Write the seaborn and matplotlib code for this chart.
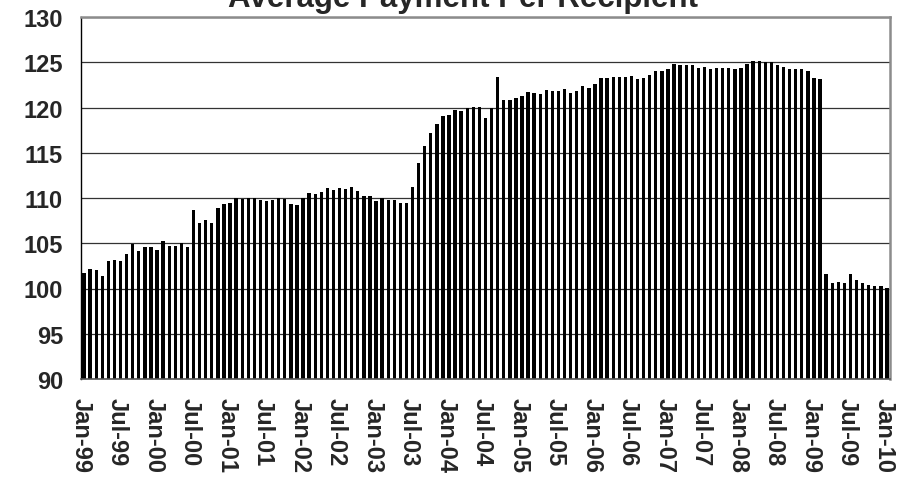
import pandas as pd
import numpy as np
import matplotlib
matplotlib.use('Agg')
import matplotlib.pyplot as plt
import seaborn as sns

# monthly average payment per recipient, Jan-99 .. Jan-10
values = [101.7, 102.2, 102.0, 101.35, 103.0, 103.15, 103.0, 103.8, 104.9, 104.1, 104.55, 104.55,
          104.3, 105.3, 104.65, 104.65, 105.0, 104.55, 108.65, 107.25, 107.55, 107.25, 108.95, 109.3,
          109.5, 110.05, 109.9, 110.05, 110.05, 109.8, 109.7, 109.8, 110.0, 109.9, 109.3, 109.25,
          110.0, 110.6, 110.45, 110.65, 111.1, 110.9, 111.1, 111.0, 111.2, 110.8, 110.2, 110.2,
          109.65, 109.95, 109.8, 109.8, 109.5, 109.45, 111.2, 113.85, 115.7, 117.2, 118.2, 119.05,
          119.2, 119.7, 119.6, 119.9, 120.05, 120.1, 118.85, 119.9, 123.4, 120.85, 120.85, 121.05,
          121.25, 121.7, 121.6, 121.5, 121.9, 121.8, 121.8, 122.05, 121.6, 121.8, 122.4, 122.15,
          122.6, 123.3, 123.3, 123.4, 123.4, 123.4, 123.5, 123.15, 123.3, 123.6, 124.05, 124.05,
          124.25, 124.8, 124.7, 124.7, 124.7, 124.35, 124.45, 124.25, 124.35, 124.35, 124.35, 124.25,
          124.35, 124.8, 125.15, 125.15, 125.0, 125.0, 124.7, 124.45, 124.25, 124.25, 124.25, 124.05,
          123.3, 123.15, 101.6, 100.6, 100.7, 100.6, 101.6, 100.95, 100.6, 100.4, 100.3, 100.3,
          100.1]
months = pd.date_range('1999-01-01', periods=len(values), freq='MS').strftime('%b-%y').tolist()

tick_labels = ['Jan-99', 'Jul-99', 'Jan-00', 'Jul-00', 'Jan-01', 'Jul-01', 'Jan-02', 'Jul-02',
               'Jan-03', 'Jul-03', 'Jan-04', 'Jul-04', 'Jan-05', 'Jul-05', 'Jan-06', 'Jul-06',
               'Jan-07', 'Jul-07', 'Jan-08', 'Jul-08', 'Jan-09', 'Jul-09', 'Jan-10']
y_ticks = [90, 95, 100, 105, 110, 115, 120, 125, 130]

df = pd.DataFrame({'Month': months, 'Payment': values})

sns.set_style('white')
plt.rcParams['font.family'] = ['Liberation Sans', 'DejaVu Sans']

fig = plt.figure(figsize=(9.09, 4.85), dpi=100)
ax = fig.add_axes([81/909, 1-380/485, (890-81)/909, (380-18)/485])

sns.barplot(data=df, x='Month', y='Payment', color='black', saturation=1,
            width=0.55, ax=ax, linewidth=0)

ax.set_ylim(90, 130)
ax.set_xlim(-0.5, len(values) - 0.5)
ax.set_yticks(y_ticks)
ax.set_yticklabels([str(t) for t in y_ticks], fontsize=17, fontweight='bold')
ax.set_xticks(np.arange(len(tick_labels)) * 6 - 0.5)
ax.set_xticklabels(tick_labels, rotation=270, fontsize=17, fontweight='bold')
ax.set_xlabel('')
ax.set_ylabel('')

ax.yaxis.grid(True, color='#333333', linewidth=0.9)
ax.set_axisbelow(True)
ax.tick_params(axis='both', direction='out', length=5, width=0.9, color='#333333')
ax.tick_params(axis='x', pad=8)
ax.tick_params(axis='y', pad=8)

for s in ['top', 'right']:
    ax.spines[s].set_color('#8c8c8c')
    ax.spines[s].set_linewidth(1.8)
ax.spines['left'].set_color('black')
ax.spines['left'].set_linewidth(1.0)
ax.spines['bottom'].set_color('#555555')
ax.spines['bottom'].set_linewidth(1.2)

# title sits partly above the canvas, as in the source image
fig.text(463/909, 1 - 7.5/485, 'Average Payment Per Recipient', ha='center', va='baseline',
         fontsize=22.5, fontweight='bold')

plt.savefig('out.png', dpi=100)
